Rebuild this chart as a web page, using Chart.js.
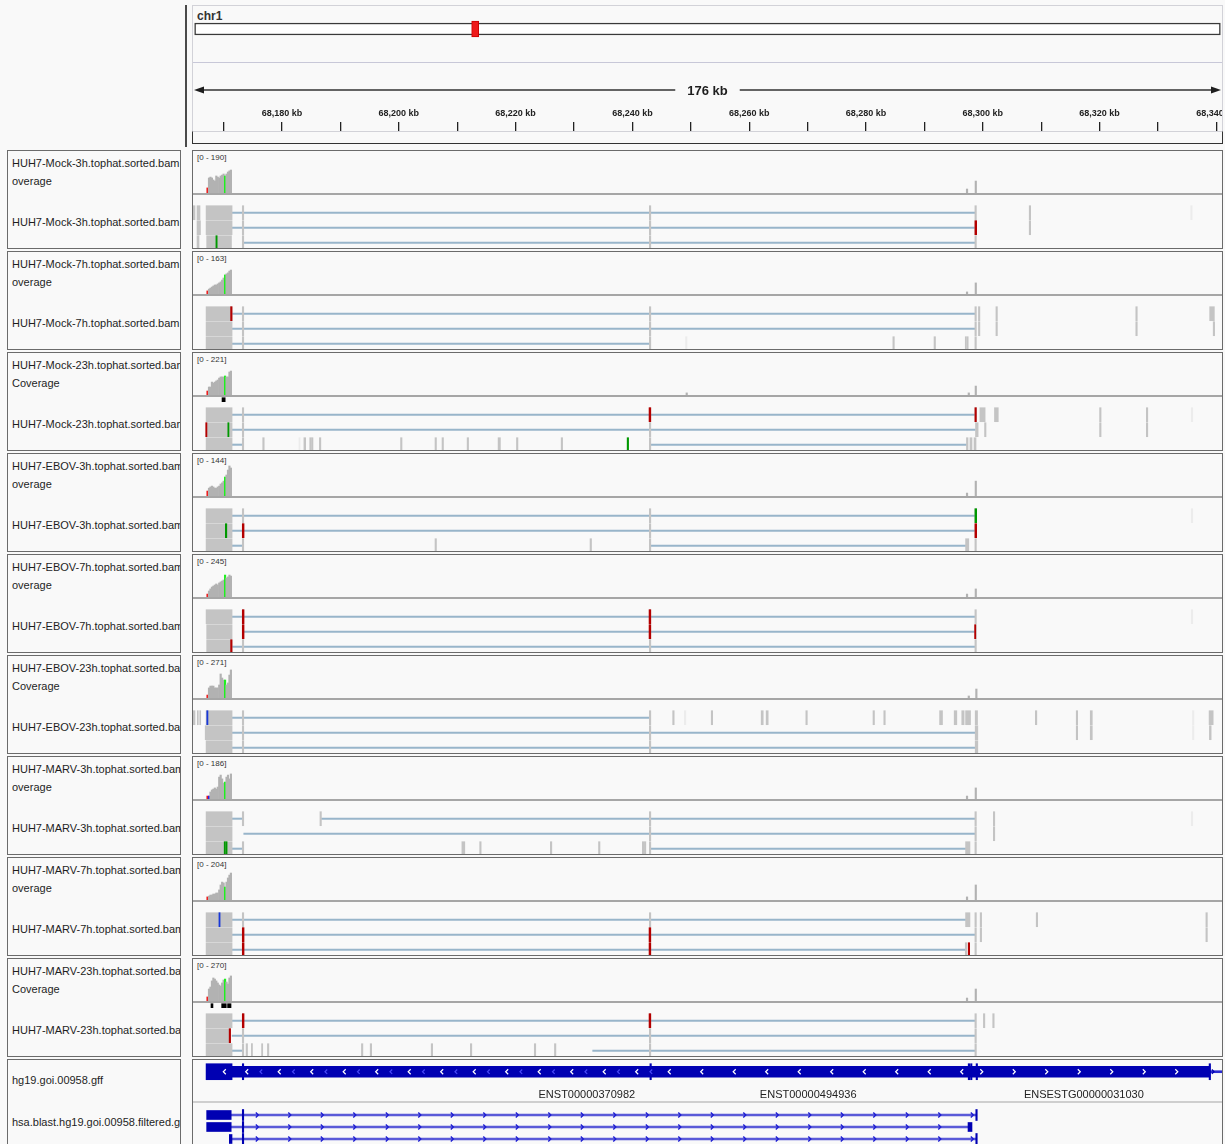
<!DOCTYPE html>
<html>
<head>
<meta charset="utf-8">
<title>chr1:68,164,760-68,340,960</title>
<script src="https://cdn.jsdelivr.net/npm/chart.js@4.4.1/dist/chart.umd.min.js"></script>
<style>
  body { margin: 0; background: #f9f9f9; font-family: "Liberation Sans", Arial, Helvetica, sans-serif; }
  #page { position: relative; width: 1225px; height: 1144px; overflow: hidden; background: #f9f9f9; }
  #page > * { position: absolute; }
  canvas { display: block; }
  .lbox { left: 7px; width: 174px; box-sizing: border-box; border: 1px solid #6b6b6b; background: #f9f9f9; overflow: hidden; }
  .lbox div { position: absolute; left: 4px; font-size: 11px; line-height: 13px; color: #1e1e1e; white-space: nowrap; }
  .rbox { left: 192px; width: 1031px; box-sizing: border-box; border: 1px solid #6b6b6b; background: #f9f9f9; }
  .range { left: 197px; font-size: 8px; line-height: 10px; color: #333; white-space: nowrap; }
  .baseline { left: 193px; width: 1029px; height: 2px; background: #a6a6a6; }
  #divider { left: 185px; top: 5px; width: 2px; height: 142px; background: #4a4a4a; }
  #rulerFrame { left: 192px; top: 5px; width: 1031px; height: 127px; box-sizing: border-box; border: 1px solid #d2d2d8; border-bottom: none; }
  #chrName { left: 197px; top: 9px; font-size: 12px; font-weight: bold; color: #333; }
  #rulerInnerTop { left: 193px; top: 62px; width: 1029px; height: 1px; background: #c8c8d8; }
  #rulerTray { left: 192px; top: 131px; width: 1031px; height: 13px; box-sizing: border-box; border: 1px solid #333; border-top: 1px solid #d2d2d8; }
</style>
</head>
<body>
<div id="page">
  <div id="divider"></div>
  <div id="rulerFrame"></div>
  <div id="chrName">chr1</div>
  <div id="rulerInnerTop"></div>
  <div id="rulerTray"></div>
</div>
<script>
const FONT = '"Liberation Sans", Arial, Helvetica, sans-serif';

// visible locus (kb on chr1) and ideogram
const viewStart = 68164.76;
const viewEnd = 68340.96;
const chr1LengthMb = 249.25;
const locusMb = [68.165, 68.341];
const rulerTicks = [68170, 68180, 68190, 68200, 68210, 68220, 68230, 68240, 68250, 68260,
                    68270, 68280, 68290, 68300, 68310, 68320, 68330, 68340];

// samples
const panelNames = ['HUH7-Mock-3h', 'HUH7-Mock-7h', 'HUH7-Mock-23h', 'HUH7-EBOV-3h', 'HUH7-EBOV-7h',
                    'HUH7-EBOV-23h', 'HUH7-MARV-3h', 'HUH7-MARV-7h', 'HUH7-MARV-23h'];
const coverageLine2 = ['overage', 'overage', 'Coverage', 'overage', 'overage', 'Coverage', 'overage', 'overage', 'Coverage'];
const coverageRanges = [190, 163, 221, 144, 245, 271, 186, 204, 270];

// coverage over the first exon, 250 bp bins (kb)
const covBins = [68167.25, 68167.5, 68167.75, 68168.0, 68168.25, 68168.5, 68168.75, 68169.0, 68169.25,
                 68169.5, 68169.75, 68170.0, 68170.25, 68170.5, 68170.75, 68171.0, 68171.25];
const coverageCounts = [
  [23, 68, 72, 68, 59, 54, 77, 72, 68, 77, 81, 86, 77, 86, 95, 100, 104],
  [12, 19, 23, 27, 31, 35, 35, 39, 43, 47, 54, 62, 74, 78, 82, 89, 93],
  [21, 42, 42, 68, 63, 68, 74, 79, 89, 95, 95, 95, 100, 95, 95, 121, 126],
  [17, 27, 31, 34, 31, 27, 27, 31, 34, 41, 45, 51, 65, 72, 89, 103, 96],
  [17, 35, 47, 58, 64, 70, 76, 70, 82, 88, 93, 99, 128, 111, 117, 128, 122],
  [19, 65, 77, 77, 77, 65, 65, 65, 84, 155, 129, 116, 116, 84, 97, 148, 181],
  [13, 13, 31, 40, 44, 49, 44, 53, 97, 106, 89, 71, 75, 97, 106, 89, 111],
  [15, 19, 24, 24, 29, 29, 34, 34, 49, 73, 87, 83, 63, 87, 107, 121, 131],
  [26, 77, 90, 129, 148, 141, 129, 116, 103, 96, 116, 135, 141, 122, 109, 148, 161]
];
// [panel, kb, count]
const coverageSpikes = [
  [0, 68297.3, 18], [0, 68298.8, 54], [1, 68297.3, 8], [1, 68298.8, 43],
  [2, 68249.3, 11], [2, 68297.6, 11], [2, 68298.8, 47], [3, 68297.3, 10], [3, 68298.8, 51],
  [4, 68297.3, 17], [4, 68298.8, 47], [5, 68297.6, 13], [5, 68298.9, 58],
  [6, 68297.3, 13], [6, 68298.8, 49], [7, 68297.3, 15], [7, 68298.8, 73], [8, 68297.3, 19], [8, 68298.8, 77]
];
// [panel, kb, base colour]
const coverageMismatch = [
  [0, 68167.25, 'r'], [0, 68170.25, 'g'], [1, 68167.25, 'r'], [1, 68170.25, 'g'],
  [2, 68167.25, 'r'], [2, 68170.25, 'g'], [3, 68167.25, 'r'], [3, 68170.25, 'g'],
  [4, 68167.25, 'r'], [4, 68170.25, 'g'], [5, 68167.25, 'r'], [5, 68170.25, 'g'],
  [6, 68167.25, 'r'], [6, 68167.5, 'b'], [6, 68170.25, 'g'], [7, 68167.25, 'r'], [7, 68170.25, 'g'],
  [8, 68167.25, 'r'], [8, 68170.25, 'g']
];

// alignments: [panel, row, start kb, end kb, faint]
const reads = [
  [0,0,68164.76,68165.10,0],[0,0,68165.45,68165.96,0],[0,0,68167.0,68171.45,0],[0,0,68173.2,68173.45,0],[0,0,68242.9,68243.15,0],[0,0,68298.65,68298.9,0],[0,0,68307.95,68308.2,0],[0,0,68335.6,68335.85,1],
  [0,1,68165.45,68166.04,0],[0,1,68167.0,68171.45,0],[0,1,68173.2,68173.45,0],[0,1,68242.9,68243.15,0],[0,1,68298.65,68298.9,0],[0,1,68307.95,68308.2,0],
  [0,2,68165.45,68165.79,0],[0,2,68167.1,68171.35,0],[0,2,68173.2,68173.45,0],[0,2,68242.9,68243.15,0],[0,2,68298.65,68298.9,0],

  [1,0,68167.0,68171.45,0],[1,0,68173.2,68173.45,0],[1,0,68242.9,68243.15,0],[1,0,68298.65,68298.9,0],[1,0,68299.25,68299.5,0],[1,0,68302.25,68302.5,0],[1,0,68326.2,68326.45,0],[1,0,68338.85,68339.65,0],
  [1,1,68167.0,68171.45,0],[1,1,68173.2,68173.45,0],[1,1,68242.9,68243.15,0],[1,1,68298.65,68298.9,0],[1,1,68299.25,68299.5,0],[1,1,68302.25,68302.5,0],[1,1,68326.2,68326.45,0],[1,1,68339.45,68339.7,0],
  [1,2,68167.0,68171.45,0],[1,2,68173.2,68173.45,0],[1,2,68242.9,68243.15,0],[1,2,68249.1,68249.35,1],[1,2,68284.6,68284.85,0],[1,2,68291.65,68291.9,0],[1,2,68297.0,68297.2,0],[1,2,68297.3,68297.5,0],[1,2,68298.65,68298.9,0],

  [2,0,68167.0,68171.45,0],[2,0,68173.2,68173.45,0],[2,0,68242.9,68243.15,0],[2,0,68298.65,68298.9,0],[2,0,68299.5,68300.4,0],[2,0,68302.0,68302.65,0],[2,0,68320.0,68320.25,0],[2,0,68328.0,68328.25,0],[2,0,68335.7,68335.95,1],
  [2,1,68167.0,68171.45,0],[2,1,68173.2,68173.45,0],[2,1,68242.9,68243.15,0],[2,1,68298.75,68299.2,0],[2,1,68300.3,68300.55,0],[2,1,68320.0,68320.25,0],[2,1,68328.0,68328.25,0],
  [2,2,68167.0,68171.45,0],[2,2,68173.2,68173.45,0],[2,2,68176.7,68176.95,0],[2,2,68182.9,68183.1,1],[2,2,68183.75,68184.05,0],[2,2,68184.75,68184.95,0],[2,2,68185.05,68185.3,0],[2,2,68186.4,68186.65,0],[2,2,68200.3,68200.55,0],[2,2,68206.2,68206.45,0],[2,2,68207.4,68207.65,0],[2,2,68211.7,68211.95,0],[2,2,68217.0,68217.4,0],[2,2,68220.15,68220.4,0],[2,2,68227.8,68228.05,0],[2,2,68242.9,68243.15,0],[2,2,68297.2,68297.47,0],[2,2,68297.8,68298.15,0],[2,2,68298.5,68298.84,0],

  [3,0,68167.0,68171.45,0],[3,0,68173.2,68173.45,0],[3,0,68242.9,68243.15,0],[3,0,68298.65,68298.9,0],[3,0,68335.7,68335.95,1],
  [3,1,68167.0,68171.45,0],[3,1,68173.2,68173.45,0],[3,1,68242.9,68243.15,0],[3,1,68298.65,68298.9,0],
  [3,2,68167.0,68171.45,0],[3,2,68173.2,68173.45,0],[3,2,68206.2,68206.45,0],[3,2,68232.75,68233.0,0],[3,2,68242.9,68243.15,0],[3,2,68297.05,68297.6,0],[3,2,68298.65,68298.9,0],

  [4,0,68167.0,68171.45,0],[4,0,68173.2,68173.45,0],[4,0,68242.9,68243.15,0],[4,0,68298.65,68298.9,0],[4,0,68335.7,68335.95,1],
  [4,1,68167.1,68171.45,0],[4,1,68173.2,68173.45,0],[4,1,68242.9,68243.15,0],[4,1,68298.65,68298.9,0],
  [4,2,68167.1,68171.45,0],[4,2,68173.2,68173.45,0],[4,2,68242.9,68243.15,0],[4,2,68298.65,68298.9,0],

  [5,0,68164.64,68165.1,0],[5,0,68165.5,68165.67,0],[5,0,68165.91,68166.08,0],[5,0,68167.0,68171.45,0],[5,0,68173.2,68173.45,0],[5,0,68242.9,68243.15,0],[5,0,68246.9,68247.15,0],[5,0,68248.9,68249.15,1],[5,0,68253.5,68253.75,0],[5,0,68262.05,68262.4,0],[5,0,68262.9,68263.25,0],[5,0,68269.7,68269.95,0],[5,0,68281.2,68281.45,0],[5,0,68283.05,68283.3,0],[5,0,68292.6,68293.1,0],[5,0,68295.1,68295.55,0],[5,0,68296.4,68296.8,0],[5,0,68297.05,68297.9,0],[5,0,68298.7,68299.1,0],[5,0,68309.0,68309.25,0],[5,0,68316.0,68316.25,0],[5,0,68318.4,68318.75,0],[5,0,68335.9,68336.15,1],[5,0,68338.75,68339.45,0],
  [5,1,68166.85,68171.45,0],[5,1,68173.2,68173.45,0],[5,1,68242.9,68243.15,0],[5,1,68298.7,68299.15,0],[5,1,68316.0,68316.25,0],[5,1,68318.4,68318.75,0],[5,1,68335.9,68336.15,1],[5,1,68338.8,68339.1,0],
  [5,2,68167.0,68171.45,0],[5,2,68173.2,68173.45,0],[5,2,68242.9,68243.15,0],[5,2,68298.7,68299.15,0],

  [6,0,68167.0,68171.45,0],[6,0,68173.2,68173.45,0],[6,0,68186.5,68186.75,0],[6,0,68242.9,68243.15,0],[6,0,68298.65,68298.9,0],[6,0,68301.8,68302.05,0],[6,0,68335.7,68335.95,1],
  [6,1,68167.0,68171.45,0],[6,1,68242.9,68243.15,0],[6,1,68298.65,68298.9,0],[6,1,68301.8,68302.05,0],
  [6,2,68167.0,68171.45,0],[6,2,68173.2,68173.45,0],[6,2,68210.8,68211.3,0],[6,2,68213.85,68214.1,0],[6,2,68225.95,68226.2,0],[6,2,68234.2,68234.45,0],[6,2,68241.7,68241.95,0],[6,2,68242.05,68242.3,0],[6,2,68242.9,68243.15,0],[6,2,68297.05,68297.8,0],[6,2,68298.65,68298.9,0],

  [7,0,68167.0,68171.45,0],[7,0,68173.2,68173.45,0],[7,0,68242.9,68243.15,0],[7,0,68297.05,68297.8,0],[7,0,68298.65,68298.9,0],[7,0,68299.55,68299.8,0],[7,0,68309.15,68309.4,0],[7,0,68338.2,68338.45,0],
  [7,1,68167.0,68171.45,0],[7,1,68173.2,68173.45,0],[7,1,68242.9,68243.15,0],[7,1,68298.65,68298.9,0],[7,1,68299.55,68299.8,0],[7,1,68338.2,68338.45,0],
  [7,2,68167.0,68171.45,0],[7,2,68173.2,68173.45,0],[7,2,68242.9,68243.15,0],[7,2,68297.0,68297.25,0],[7,2,68298.65,68298.9,0],

  [8,0,68167.0,68171.45,0],[8,0,68173.2,68173.45,0],[8,0,68242.9,68243.15,0],[8,0,68298.65,68298.9,0],[8,0,68300.1,68300.35,0],[8,0,68301.7,68301.95,0],
  [8,1,68167.0,68171.2,0],[8,1,68173.2,68173.45,0],[8,1,68242.9,68243.15,0],[8,1,68298.65,68298.9,0],
  [8,2,68167.0,68171.45,0],[8,2,68173.2,68173.45,0],[8,2,68173.85,68174.1,0],[8,2,68174.75,68174.95,0],[8,2,68176.5,68176.7,0],[8,2,68177.5,68177.75,0],[8,2,68193.6,68193.85,0],[8,2,68195.1,68195.35,0],[8,2,68205.55,68205.8,0],[8,2,68212.25,68212.5,0],[8,2,68223.2,68223.45,0],[8,2,68226.65,68226.9,0],[8,2,68242.9,68243.15,0],[8,2,68298.65,68298.9,0]
];
// spliced gaps: [panel, row, start kb, end kb]
const junctions = [
  [0,0,68171.45,68298.7],[0,1,68171.45,68298.7],[0,2,68173.45,68298.7],
  [1,0,68171.45,68298.7],[1,1,68171.45,68298.7],[1,2,68171.45,68242.9],
  [2,0,68171.45,68298.7],[2,1,68171.45,68298.7],[2,2,68171.45,68173.2],[2,2,68243.15,68297.2],
  [3,0,68171.45,68298.7],[3,1,68171.45,68298.7],[3,2,68171.45,68173.2],[3,2,68243.15,68297.05],
  [4,0,68171.45,68298.7],[4,1,68173.45,68298.7],[4,2,68171.45,68298.7],
  [5,0,68171.45,68242.9],[5,1,68171.45,68298.7],[5,2,68171.45,68298.7],
  [6,0,68171.45,68173.2],[6,0,68186.75,68298.7],[6,1,68173.45,68298.7],[6,2,68171.45,68173.2],[6,2,68243.15,68297.05],
  [7,0,68171.45,68297.05],[7,1,68171.45,68298.7],[7,2,68171.45,68297.0],
  [8,0,68171.45,68298.7],[8,1,68171.45,68298.7],[8,2,68171.45,68173.2],[8,2,68233.2,68298.7]
];
// mismatched bases: [panel, row, start kb, end kb, base colour]
const mismatches = [
  [0,1,68298.65,68298.95,'r'],[0,2,68168.68,68168.9,'g'],
  [1,0,68171.2,68171.45,'r'],
  [2,0,68242.85,68243.15,'r'],[2,0,68298.65,68298.9,'r'],[2,1,68166.94,68167.15,'r'],[2,1,68170.72,68170.92,'g'],[2,2,68239.1,68239.35,'g'],
  [3,0,68298.65,68298.95,'g'],[3,1,68170.3,68170.55,'g'],[3,1,68173.2,68173.5,'r'],[3,1,68298.65,68298.95,'r'],
  [4,0,68173.2,68173.5,'r'],[4,0,68242.85,68243.15,'r'],[4,1,68173.2,68173.5,'r'],[4,1,68242.85,68243.15,'r'],[4,1,68298.6,68298.8,'r'],[4,2,68171.2,68171.45,'r'],
  [5,0,68167.12,68167.32,'b'],
  [6,2,68170.1,68170.3,'g'],[6,2,68170.4,68170.6,'g'],
  [7,0,68169.2,68169.4,'b'],[7,1,68173.2,68173.5,'r'],[7,1,68242.85,68243.15,'r'],[7,2,68173.2,68173.5,'r'],[7,2,68242.85,68243.15,'r'],[7,2,68297.5,68297.75,'r'],
  [8,0,68173.2,68173.5,'r'],[8,0,68242.85,68243.15,'r'],[8,1,68170.95,68171.2,'r']
];
// downsampled intervals: [panel, start kb, end kb]
const downsampled = [[2,68169.73,68170.27],[8,68167.84,68168.18],[8,68169.67,68170.46],[8,68170.68,68171.27]];

// annotation tracks
const gffFeatureNames = ['ENST00000370982', 'ENST00000494936', 'ENSESTG00000031030'];
const gffFeatureStarts = [68167.0, 68243.0, 68298.8];
const gffFeatureEnds = [68297.4, 68297.2, 68335.8];
const gffTallBlocks = [[68167.0,68171.45],[68173.2,68173.45],[68243.0,68243.25],[68297.5,68297.75],[68297.9,68298.15],[68298.85,68299.1],[68338.75,68339.0]];
const gffBand = [[68171.45,68338.9]];
const gffIntron = [[68338.9,68341.0]];
// [from kb, to kb, strand, shade]
const gffStrandRuns = [[68169.95,68169.95,-1,'w'],[68173.78,68297.4,-1,'w'],[68176.23,68243.0,-1,'b'],[68300.0,68334.0,1,'w'],[68339.6,68339.6,1,'d']];

// blast hits: [row, start kb, end kb]
const blastBlocks = [[0,68167.1,68171.3],[1,68167.1,68171.3],[2,68170.98,68171.44],[1,68297.47,68298.15]];
const blastTicks = [[0,68173.2,68173.45],[1,68173.2,68173.45],[2,68173.2,68173.45],[0,68298.8,68299.05],[2,68298.8,68299.05]];
const blastLines = [[0,68171.3,68298.9],[1,68171.3,68297.5],[2,68171.44,68298.9]];
const blastStrandRuns = [[0,68175.94,68298.5,1],[1,68175.94,68297.0,1],[2,68175.94,68298.5,1]];

// ---------------------------------------------------------------
const covPalette = {r: '#f01414', g: '#1ef01e', b: '#2020f0'};
const basePalette = {r: '#b40000', g: '#009800', b: '#1838d8'};
const shadePalette = {w: '#ffffff', b: '#4646f5', d: '#0000b2'};

const page = document.getElementById('page');
function el(tag, cls, css, text) {
  const e = document.createElement(tag);
  if (cls) e.className = cls;
  Object.assign(e.style, css || {});
  if (text) e.textContent = text;
  page.appendChild(e);
  return e;
}
function canvasAt(left, top, w, h) {
  const c = el('canvas', null, {left: left + 'px', top: top + 'px'});
  c.width = w; c.height = h;
  return c;
}
function opts(scales, extra) {
  extra = extra || {};
  return Object.assign({
    responsive: false, animation: false, events: [],
    layout: {padding: 0},
    scales: scales
  }, extra, {
    plugins: Object.assign({legend: {display: false}, tooltip: {enabled: false}}, extra.plugins || {})
  });
}
const xView = {type: 'linear', min: viewStart, max: viewEnd, display: false, offset: false};

// strand chevrons drawn along features
const chevrons = {
  id: 'chevrons',
  afterDatasetsDraw(chart, args, o) {
    const {ctx, chartArea: a} = chart;
    const xs = chart.scales.x, ys = chart.scales.y;
    ctx.save();
    ctx.beginPath(); ctx.rect(a.left, a.top, a.width, a.height); ctx.clip();
    (o.items || []).forEach(it => {
      const y = ys.getPixelForValue(it.row);
      const end = xs.getPixelForValue(it.to);
      ctx.strokeStyle = it.color; ctx.lineWidth = it.lw;
      for (let x = xs.getPixelForValue(it.from); x <= end + 0.5; x += o.spacing) {
        const w = it.size * it.dir;
        ctx.beginPath();
        ctx.moveTo(x - w, y - it.size);
        ctx.lineTo(x, y);
        ctx.lineTo(x - w, y + it.size);
        ctx.stroke();
      }
    });
    ctx.restore();
  }
};
// feature names centred under features
const featureNames = {
  id: 'featureNames',
  afterDatasetsDraw(chart, args, o) {
    const {ctx} = chart, xs = chart.scales.x;
    ctx.save();
    ctx.font = '11px ' + FONT; ctx.fillStyle = '#222';
    ctx.textAlign = 'center'; ctx.textBaseline = 'middle';
    o.names.forEach((n, i) => ctx.fillText(n, xs.getPixelForValue((o.starts[i] + o.ends[i]) / 2), o.y));
    ctx.restore();
  }
};
// span arrow of the ruler
const spanArrow = {
  id: 'span',
  afterDraw(chart, args, o) {
    const {ctx} = chart, xs = chart.scales.x;
    const x0 = xs.left + 1, x1 = xs.right - 1, y = o.y;
    const label = Math.round(xs.max - xs.min) + ' kb';
    ctx.save();
    ctx.font = 'bold 13px ' + FONT;
    const w = ctx.measureText(label).width, cx = (x0 + x1) / 2;
    ctx.strokeStyle = '#333'; ctx.fillStyle = '#1e1e1e'; ctx.lineWidth = 1.3;
    ctx.beginPath();
    ctx.moveTo(x0 + 6, y); ctx.lineTo(cx - w / 2 - 12, y);
    ctx.moveTo(cx + w / 2 + 12, y); ctx.lineTo(x1 - 6, y);
    ctx.stroke();
    ctx.beginPath(); ctx.moveTo(x0, y); ctx.lineTo(x0 + 10, y - 3.5); ctx.lineTo(x0 + 10, y + 3.5); ctx.closePath(); ctx.fill();
    ctx.beginPath(); ctx.moveTo(x1, y); ctx.lineTo(x1 - 10, y - 3.5); ctx.lineTo(x1 - 10, y + 3.5); ctx.closePath(); ctx.fill();
    ctx.textAlign = 'center'; ctx.textBaseline = 'middle';
    ctx.fillText(label, cx, y + 1);
    ctx.restore();
  }
};

// ---- ideogram (locus box centred on its start, as IGV widens it to a minimum size)
new Chart(canvasAt(193, 19, 1029, 20), {
  type: 'bar',
  data: {datasets: [
    {data: [{x: locusMb, y: 0}], backgroundColor: '#ee1a1a', borderColor: '#cc0000', borderWidth: 1,
     borderSkipped: false, barThickness: 16, minBarLength: 7, base: locusMb[0], grouped: false},
    {data: [{x: [0, chr1LengthMb], y: 0}], backgroundColor: '#ffffff', borderColor: '#3a3a3a', borderWidth: 1.5,
     borderSkipped: false, barThickness: 12, grouped: false}
  ]},
  options: opts({
    x: {type: 'linear', min: -0.4, max: chr1LengthMb + 0.4, display: false},
    y: {type: 'linear', min: -1, max: 1, display: false, offset: false}
  }, {indexAxis: 'y'})
});

// ---- ruler
new Chart(canvasAt(193, 62, 1029, 70), {
  type: 'line',
  data: {datasets: []},
  options: opts({
    x: {
      type: 'linear', position: 'top', min: viewStart, max: viewEnd,
      afterBuildTicks: s => { s.ticks = rulerTicks.map(v => ({value: v})); },
      afterFit: s => { s.height = 69; s.paddingLeft = 0; s.paddingRight = 0; },
      ticks: {autoSkip: false, maxRotation: 0, padding: 3, color: '#222',
              font: {family: FONT, size: 9, weight: 'bold'},
              callback: v => (v % 20 === 0 ? v.toLocaleString('en-US') + ' kb' : '')},
      grid: {drawOnChartArea: false, tickLength: 9, color: '#222', lineWidth: 1.3},
      border: {display: false}
    },
    y: {display: false}
  }, {plugins: {span: {y: 28}}}),
  plugins: [spanArrow]
});

// ---- sample panels
panelNames.forEach((name, i) => {
  const top = 150 + 101 * i;
  const lb = el('div', 'lbox', {top: top + 'px', height: '99px'});
  [[name + '.tophat.sorted.bam', 6], [coverageLine2[i], 24], [name + '.tophat.sorted.bam', 65]].forEach(([t, y]) => {
    const d = document.createElement('div');
    d.textContent = t; d.style.top = y + 'px';
    lb.appendChild(d);
  });
  el('div', 'rbox', {top: top + 'px', height: '99px'});
  el('div', 'range', {top: (top + 3) + 'px'}, '[0 - ' + coverageRanges[i] + ']');
  el('div', 'baseline', {top: (top + 43) + 'px'});

  // coverage
  const covData = covBins.map((x, j) => ({x: x, y: coverageCounts[i][j]}))
    .concat(coverageSpikes.filter(s => s[0] === i).map(s => ({x: s[1], y: s[2]})));
  const covColour = c => {
    const m = coverageMismatch.find(k => k[0] === i && k[1] === c.raw.x);
    return m ? covPalette[m[2]] : '#b2b2b2';
  };
  new Chart(canvasAt(193, top + 1, 1029, 42), {
    type: 'bar',
    data: {datasets: [{data: covData, backgroundColor: covColour, barThickness: 1.5, borderWidth: 0}]},
    options: opts({x: xView, y: {type: 'linear', min: 0, max: coverageRanges[i], display: false}})
  });

  // alignments
  const mine = arr => arr.filter(r => r[0] === i);
  new Chart(canvasAt(193, top + 45, 1029, 53), {
    type: 'bar',
    data: {datasets: [
      {data: mine(mismatches).map(m => ({x: [m[2], m[3]], y: m[1], c: m[4]})),
       backgroundColor: c => basePalette[c.raw.c], barThickness: 14, grouped: false},
      {data: mine(downsampled).map(d => ({x: [d[1], d[2]], y: -1})),
       backgroundColor: '#000', barThickness: 4, grouped: false},
      {data: mine(reads).map(r => ({x: [r[2], r[3]], y: r[1], f: r[4]})),
       backgroundColor: c => (c.raw.f ? '#ececec' : '#c4c4c4'), barThickness: 14, grouped: false},
      {data: mine(junctions).map(j => ({x: [j[2], j[3]], y: j[1]})),
       backgroundColor: '#98b5ca', barThickness: 1.4, grouped: false}
    ]},
    options: opts({x: xView, y: {type: 'linear', min: -1.18, max: 2.353, reverse: true, display: false, offset: false}},
                  {indexAxis: 'y'})
  });
});

// ---- annotation panel
const gTop = 1059;
const glb = el('div', 'lbox', {top: gTop + 'px', height: '95px'});
[['hg19.goi.00958.gff', 14], ['hsa.blast.hg19.goi.00958.filtered.gff', 56]].forEach(([t, y]) => {
  const d = document.createElement('div');
  d.textContent = t; d.style.top = y + 'px';
  glb.appendChild(d);
});
el('div', 'rbox', {top: gTop + 'px', height: '95px'});
el('div', null, {left: '193px', top: (gTop + 42) + 'px', width: '1029px', height: '2px', background: '#cfcfcf'});

new Chart(canvasAt(193, gTop + 1, 1029, 41), {
  type: 'bar',
  data: {datasets: [
    {data: gffTallBlocks.map(b => ({x: b, y: 0})), backgroundColor: '#0000b2', barThickness: 16, grouped: false},
    {data: gffBand.map(b => ({x: b, y: 0})), backgroundColor: '#0000b2', barThickness: 11, grouped: false},
    {data: gffIntron.map(b => ({x: b, y: 0})), backgroundColor: '#2a2ad0', barThickness: 2, grouped: false}
  ]},
  options: opts({x: xView, y: {type: 'linear', min: -1, max: 2.5, reverse: true, display: false, offset: false}}, {
    indexAxis: 'y',
    plugins: {
      chevrons: {spacing: 32.5, items: gffStrandRuns.map(s => ({row: 0, from: s[0], to: s[1], dir: s[2],
        color: shadePalette[s[3]], size: s[3] === 'w' ? 2.5 : 2.2, lw: 1.2}))},
      featureNames: {names: gffFeatureNames, starts: gffFeatureStarts, ends: gffFeatureEnds, y: 35}
    }
  }),
  plugins: [chevrons, featureNames]
});

new Chart(canvasAt(193, gTop + 44, 1029, 41), {
  type: 'bar',
  data: {datasets: [
    {data: blastBlocks.map(b => ({x: [b[1], b[2]], y: b[0]})), backgroundColor: '#0000b2', barThickness: 9, grouped: false},
    {data: blastTicks.map(b => ({x: [b[1], b[2]], y: b[0]})), backgroundColor: '#0000b2', barThickness: 11, grouped: false},
    {data: blastLines.map(b => ({x: [b[1], b[2]], y: b[0]})), backgroundColor: '#5a5ad8', barThickness: 2, grouped: false}
  ]},
  options: opts({x: xView, y: {type: 'linear', min: -1, max: 2.417, reverse: true, display: false, offset: false}}, {
    indexAxis: 'y',
    plugins: {
      chevrons: {spacing: 32.5, items: blastStrandRuns.map(s => ({row: s[0], from: s[1], to: s[2], dir: s[3],
        color: '#1c1cd2', size: 2.5, lw: 1.4}))}
    }
  }),
  plugins: [chevrons]
});
</script>
</body>
</html>
